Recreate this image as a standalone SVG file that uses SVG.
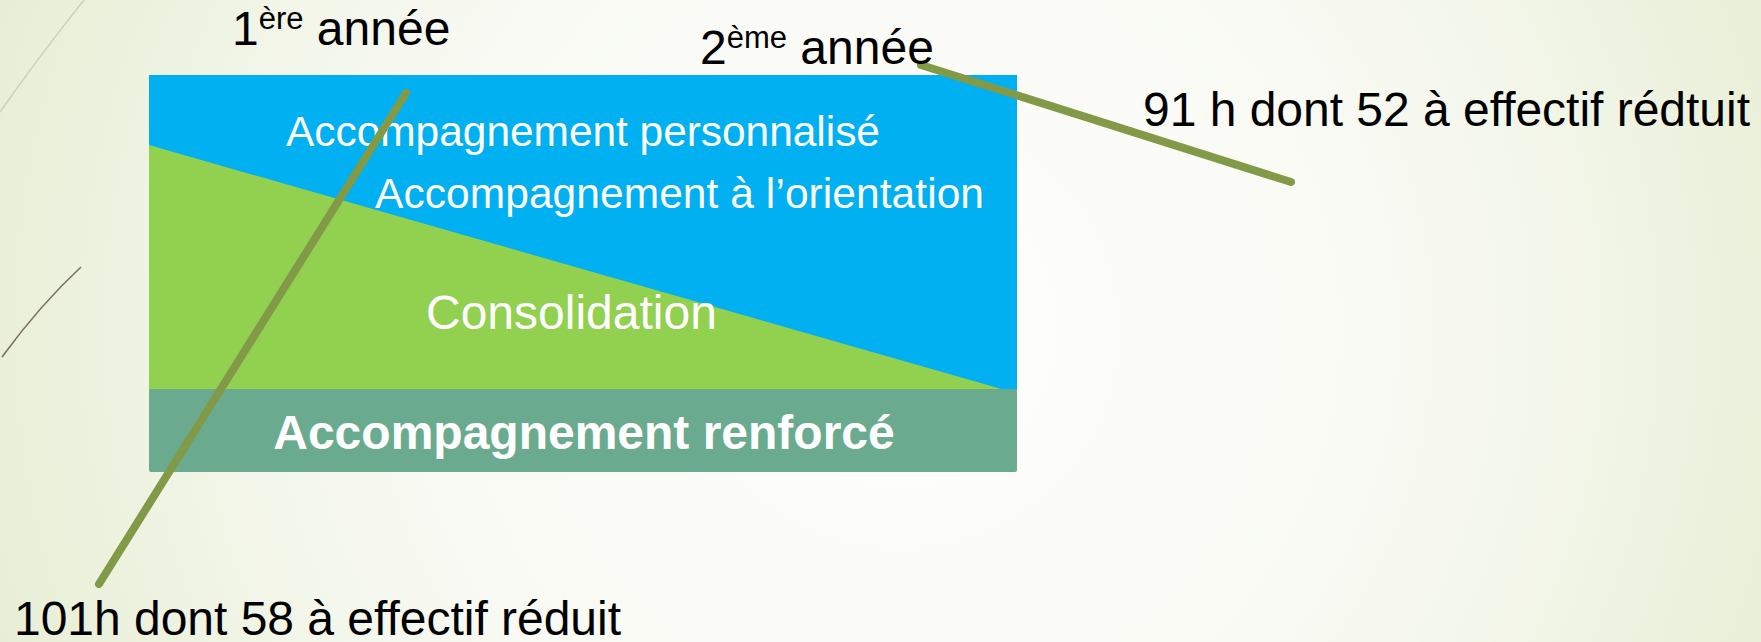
<svg xmlns="http://www.w3.org/2000/svg" width="1761" height="642" viewBox="0 0 1761 642">
<defs>
<radialGradient id="bg" cx="900" cy="330" r="1000" gradientUnits="userSpaceOnUse">
<stop offset="0" stop-color="#ffffff"/>
<stop offset="0.55" stop-color="#f7f9f1"/>
<stop offset="1" stop-color="#e6edd2"/>
</radialGradient>
<style>
.lbl{font-family:"Liberation Sans",Arial,sans-serif;fill:#000;font-size:48px}
.wt{font-family:"Liberation Sans",Arial,sans-serif;fill:#fff;font-size:42.5px}
.big{font-size:48px}
.conn{stroke:#829a47;stroke-width:8;stroke-linecap:round;fill:none}
</style>
</defs>
<rect width="1761" height="642" fill="url(#bg)"/>
<path d="M84,0 Q40,55 0,112" stroke="#cdd2bd" stroke-width="1.5" fill="none"/>
<path d="M81,267 Q40,305 2,357" stroke="#7a7262" stroke-width="1.6" fill="none"/>
<g id="blue">
<rect x="149" y="75" width="868" height="315" fill="#00b0f0"/>
</g>
<g id="green">
<polygon points="149,145 1005,390 149,390" fill="#92d050"/>
</g>
<g id="teal">
<rect x="149" y="389" width="868" height="83" rx="2" fill="#6aab8f"/>
<text class="wt big" x="584" y="449" text-anchor="middle" font-weight="bold">Accompagnement renforcé</text>
</g>
<g id="labels-white">
<text class="wt" x="286" y="146" textLength="594">Accompagnement personnalisé</text>
<text class="wt" x="375" y="208" textLength="609">Accompagnement à l’orientation</text>
<text class="wt big" x="426" y="329">Consolidation</text>
</g>
<g id="connectors">
<line class="conn" x1="406" y1="93" x2="99" y2="584"/>
<line class="conn" x1="921" y1="65" x2="1291" y2="182"/>
</g>
<g id="year1">
<text class="lbl" x="232" y="45">1<tspan font-size="31" dy="-16">ère</tspan><tspan dy="16"> année</tspan></text>
</g>
<g id="year2">
<text class="lbl" x="700" y="64">2<tspan font-size="31" dy="-16">ème</tspan><tspan dy="16"> année</tspan></text>
</g>
<g id="hours2">
<text class="lbl" x="1143" y="126" textLength="607">91 h dont 52 à effectif rédtuit</text>
</g>
<g id="hours1">
<text class="lbl" x="14" y="635" textLength="607">101h dont 58 à effectif réduit</text>
</g>
</svg>
